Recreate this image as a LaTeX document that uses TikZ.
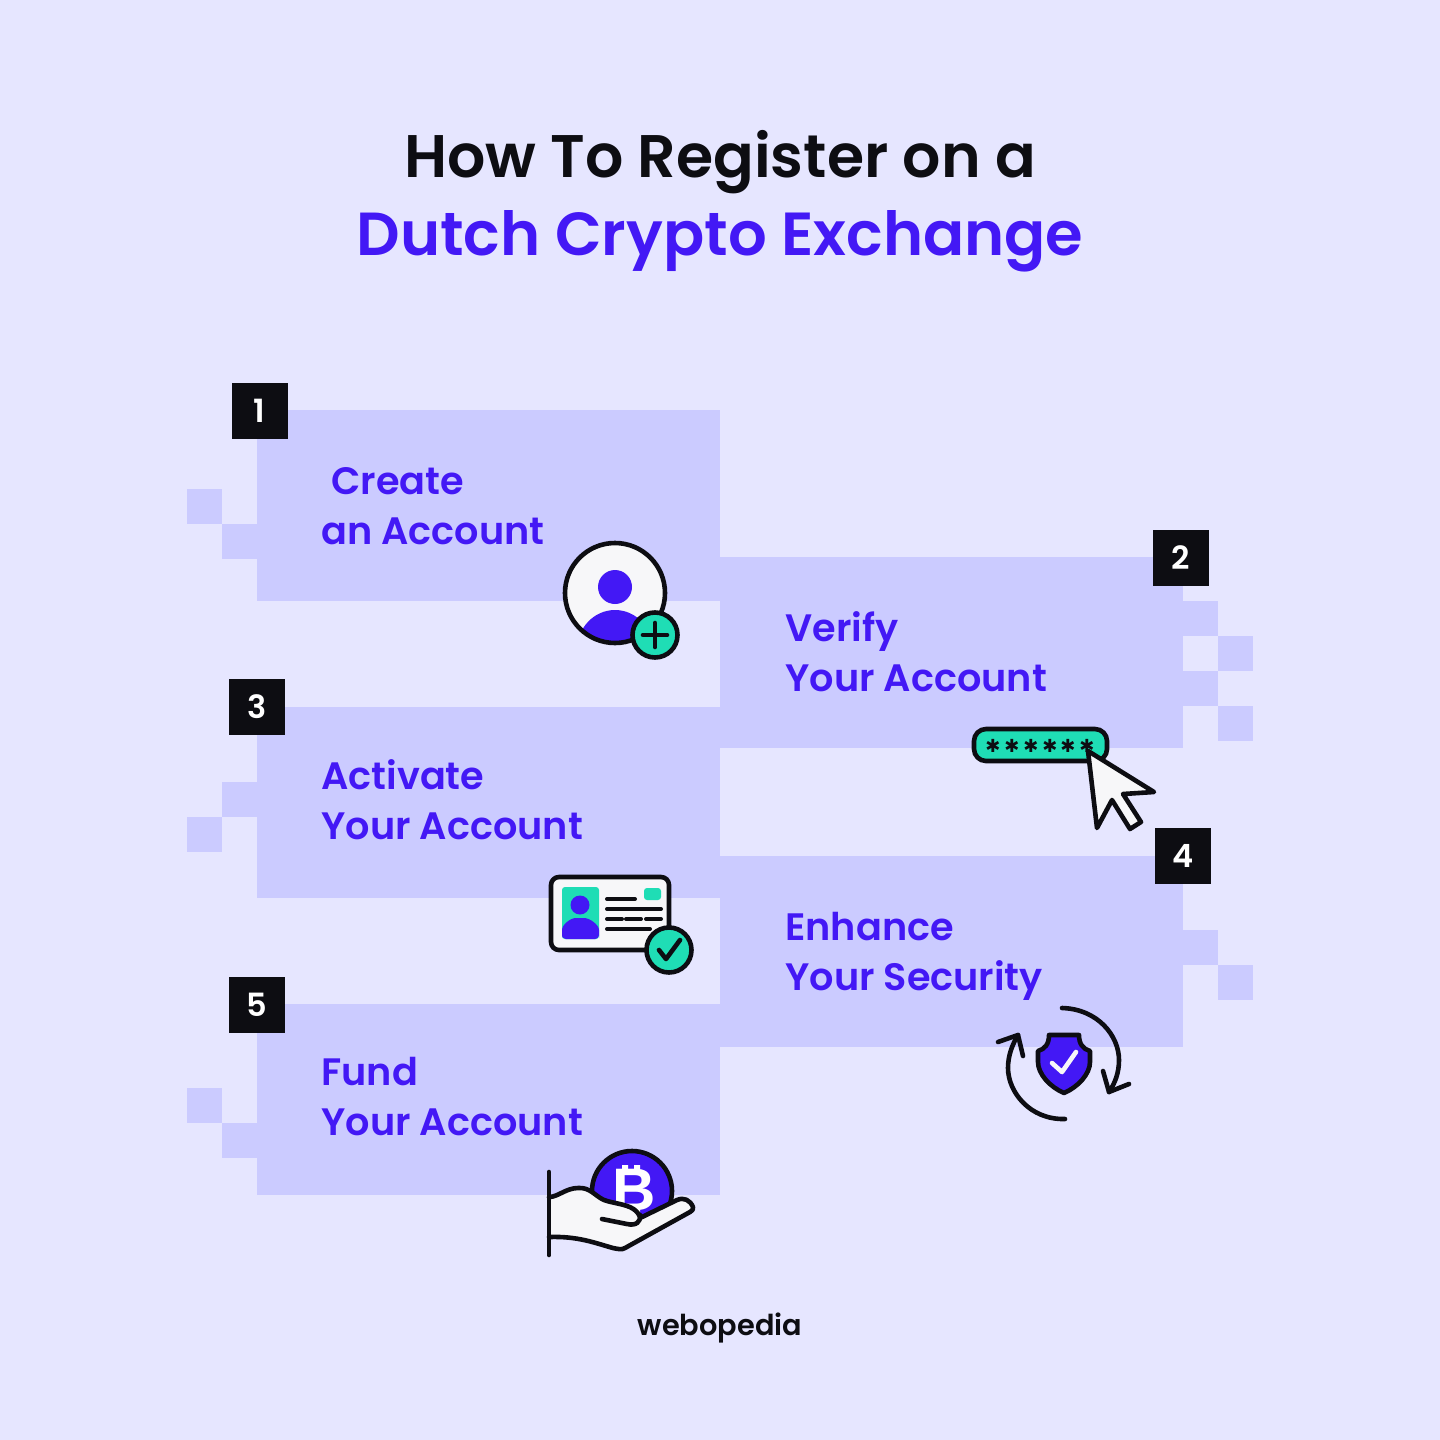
\documentclass[tikz,border=0pt]{standalone}
\usepackage{fontspec}
\setmainfont{Poppins}
\newfontfamily\tf{Poppins SemiBold}
\newfontfamily\sym{DejaVu Sans}
\definecolor{bgc}{HTML}{E6E6FF}
\definecolor{panelc}{HTML}{CBCBFF}
\definecolor{vio}{HTML}{4318F5}
\definecolor{ink}{HTML}{0D0D12}
\definecolor{teal}{HTML}{1FDDB5}
\definecolor{paper}{HTML}{F7F7F9}
\tikzset{
  panel/.style={fill=panelc,draw=none},
  badge/.style={fill=ink,text=white,minimum size=28pt,inner sep=0,font=\tf\fontsize{16}{16}\selectfont},
  steplabel/.style={anchor=west,align=left,inner sep=0,text=vio,font=\tf\fontsize{19.1}{25}\selectfont},
  titletext/.style={inner sep=0,align=center},
  ic/.style={draw=ink,line width=2.3pt,line join=round,line cap=round},
}
\begin{document}
\begin{tikzpicture}[x=0.5pt,y=-0.5pt]
\useasboundingbox (0,0) rectangle (1440,1440);
\fill[bgc] (0,0) rectangle (1440,1440);
% panels
\path[panel] (257,410) rectangle (720,601);
\path[panel] (222,524) rectangle (257,559);
\path[panel] (187,489) rectangle (222,524);
\path[panel] (720,557) rectangle (1183,748);
\path[panel] (1183,601) rectangle (1218,636);
\path[panel] (1183,671) rectangle (1218,706);
\path[panel] (1218,636) rectangle (1253,671);
\path[panel] (1218,706) rectangle (1253,741);
\path[panel] (257,707) rectangle (720,898);
\path[panel] (222,782) rectangle (257,817);
\path[panel] (187,817) rectangle (222,852);
\path[panel] (720,856) rectangle (1183,1047);
\path[panel] (1183,930) rectangle (1218,965);
\path[panel] (1218,965) rectangle (1253,1000);
\path[panel] (257,1004) rectangle (720,1195);
\path[panel] (222,1123) rectangle (257,1158);
\path[panel] (187,1088) rectangle (222,1123);
% title
\node[titletext,text=ink,font=\tf\fontsize{30.05}{39}\selectfont] (title1) at (720,162) {How To Register on a};
\node[titletext,text=vio,font=\tf\fontsize{30.4}{39}\selectfont] (title2) at (720,241) {Dutch Crypto Exchange};
% badges
\node[badge] (b1) at (259.5,410.5) {1};
\node[badge] (b2) at (1181,557.5) {2};
\node[badge] (b3) at (257,707) {3};
\node[badge] (b4) at (1183,856) {4};
\node[badge] (b5) at (257,1005) {5};
% labels
\node[steplabel] (l1) at (321,506) {\hspace*{5pt}Create\\an Account};
\node[steplabel] (l2) at (785,652) {Verify\\Your Account};
\node[steplabel] (l3) at (321,800) {Activate\\Your Account};
\node[steplabel] (l4) at (785,956) {Enhance\\Your Security};
\node[steplabel] (l5) at (321,1097) {Fund\\Your Account};
% icon 1
\begin{scope}
\fill[paper] (615,593) circle (50);
\clip (615,593) circle (50);
\fill[vio] (615,650) ellipse (38 and 40);
\end{scope}
\draw[ic] (615,593) circle (50);
\fill[vio] (615,587) circle (17);
\draw[ic,fill=teal] (655,635) circle (22.5);
\draw[ic] (643,635) -- (667,635) (655,623) -- (655,647);
% icon 2
\draw[ic,fill=teal,rounded corners=6pt] (974,729) rectangle (1107,761);
\foreach \sx in {993,1012,1031,1050,1068,1087}
  \node[inner sep=0,text=ink,font=\sym\fontsize{9}{9}\selectfont] at (\sx,746) {✱};
\draw[ic,fill=paper] (1088,751) -- (1154,792) -- (1123,794) -- (1141,822) -- (1130,829) -- (1112,800) -- (1097,828) -- cycle;
% icon 3
\draw[ic,fill=paper,rounded corners=4pt] (551,877) rectangle (669,950);
\fill[teal,rounded corners=1.5pt] (562,887) rectangle (599,939);
\fill[vio] (580,905) circle (9.5);
\fill[vio,rounded corners=2pt] (562,939) -- (562,934) .. controls (562,925) and (570,918) .. (580,918) .. controls (590,918) and (599,925) .. (599,934) -- (599,939) -- cycle;
\fill[teal,rounded corners=1.5pt] (644,888) rectangle (661,900);
\draw[ic,line width=2pt] (607,899) -- (635,899) (607,909) -- (661,909)
  (607,919) -- (622,919) (626,919) -- (641,919) (646,919) -- (661,919) (607,929) -- (650,929);
\draw[ic,fill=teal] (669,950) circle (22.5);
\draw[ic] (659,950) -- (666,959) -- (680,940);
% icon 4
\draw[ic,fill=vio] (1049,1035) -- (1079,1035) .. controls (1079,1044) and (1083,1049) .. (1090,1051)
  -- (1090,1062) .. controls (1090,1074) and (1078,1087) .. (1064,1093)
  .. controls (1050,1087) and (1038,1074) .. (1038,1062) -- (1038,1051)
  .. controls (1045,1049) and (1049,1044) .. (1049,1035) -- cycle;
\draw[draw=paper,line width=2.3pt,line cap=round,line join=round] (1052,1063) -- (1062,1072) -- (1076,1052);
\draw[ic] (1062,1008) .. controls (1098,1009) and (1119,1036) .. (1119,1060) .. controls (1119,1073) and (1115,1083) .. (1109,1092);
\draw[ic] (1103,1071) -- (1109,1092) -- (1129,1084);
\draw[ic] (1065,1119) .. controls (1030,1120) and (1008,1092) .. (1008,1068) .. controls (1008,1056) and (1012,1045) .. (1018,1035);
\draw[ic] (998,1042) -- (1018,1035) -- (1023,1056);
% icon 5
\draw[ic,fill=vio] (632,1191) circle (40);
\node[inner sep=0,text=white,font=\fontspec{Liberation Sans Bold}\fontsize{30}{30}\selectfont] (coinb) at (634,1190) {B};
\fill[white] (622,1165) rectangle (628,1174) (634,1165) rectangle (640,1174) (622,1204) rectangle (628,1212) (634,1204) rectangle (640,1212);
\fill[white] (616,1170) rectangle (626,1175);
\draw[ic,fill=paper] (549,1197) .. controls (558,1197) and (566,1188) .. (578,1188)
  .. controls (590,1187) and (595,1196) .. (604,1200)
  .. controls (615,1204) and (630,1204) .. (637,1212)
  .. controls (640,1216) and (640,1217) .. (640,1218)
  -- (677,1200) .. controls (684,1197) and (690,1200) .. (693,1207)
  .. controls (694,1209) and (692,1211) .. (690,1212)
  -- (625,1248) .. controls (622,1250) and (618,1249) .. (613,1248)
  .. controls (595,1243) and (578,1236) .. (549,1237);
\draw[ic] (602,1219) -- (627,1224) .. controls (636,1226) and (641,1222) .. (640,1215);
\draw[ic] (549,1172) -- (549,1255);
% logo
\node[inner sep=0,text=ink,font=\fontspec{Poppins SemiBold}\fontsize{14.4}{14.4}\selectfont] (logo) at (720,1328) {webopedia};
\end{tikzpicture}
\end{document}
